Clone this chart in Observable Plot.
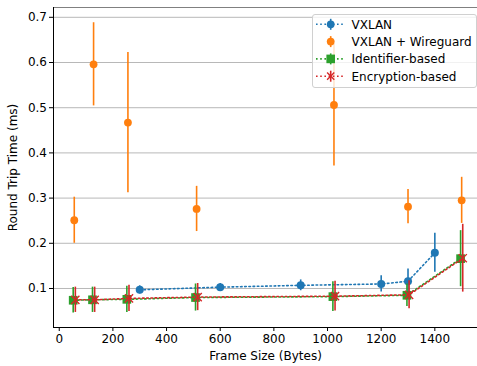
<!DOCTYPE html>
<html><head><meta charset="utf-8">
<script src="https://cdn.jsdelivr.net/npm/d3@7"></script>
<script src="https://cdn.jsdelivr.net/npm/@observablehq/plot@0.6"></script>
<style>
body{margin:0;background:#fff;}
#wrap{position:relative;width:477px;height:366px;font-family:"DejaVu Sans",sans-serif;}
#wrap svg text{font-family:"DejaVu Sans",sans-serif;}
#legend{position:absolute;left:312px;top:14px;width:163px;height:72px;border:1px solid #d0d0d0;border-radius:3px;background:rgba(255,255,255,0.8);}
#legend svg{position:absolute;left:0;top:0;}
</style></head><body><div id="wrap"></div>
<script>
// Series data
const vxlanX = [300, 600, 900, 1200, 1300, 1400];
const vxlanY = [0.097, 0.103, 0.107, 0.110, 0.116, 0.179];
const vxlanErr = [0.009, 0.008, 0.012, 0.018, 0.027, 0.043];

const wgX = [56, 128, 256, 512, 1024, 1300, 1500];
const wgY = [0.251, 0.596, 0.467, 0.276, 0.506, 0.281, 0.295];
const wgErr = [0.051, 0.092, 0.155, 0.050, 0.135, 0.038, 0.051];

const idX = [52, 124, 252, 508, 1020, 1296, 1496];
const idY = [0.074, 0.075, 0.076, 0.080, 0.082, 0.085, 0.166];
const idErr = [0.028, 0.028, 0.029, 0.030, 0.033, 0.025, 0.062];

const encX = [60, 132, 260, 516, 1028, 1304, 1504];
const encY = [0.075, 0.075, 0.078, 0.081, 0.083, 0.086, 0.167];
const encErr = [0.028, 0.028, 0.029, 0.030, 0.033, 0.031, 0.075];

const seriesNames = ["VXLAN", "VXLAN + Wireguard", "Identifier-based", "Encryption-based"];
const seriesColors = ["#1f77b4", "#ff7f0e", "#2ca02c", "#d62728"];

const xTicks = [0, 200, 400, 600, 800, 1000, 1200, 1400];
const yTicks = [0.1, 0.2, 0.3, 0.4, 0.5, 0.6, 0.7];
const xDomain = [-21.4, 1559];
const yDomain = [0.0137, 0.7217];

const rows = (xs, ys, es) => xs.map((x, i) => ({x, y: ys[i], lo: ys[i] - es[i], hi: ys[i] + es[i]}));
const vx = rows(vxlanX, vxlanY, vxlanErr);
const wg = rows(wgX, wgY, wgErr);
const id = rows(idX, idY, idErr);
const en = rows(encX, encY, encErr);

const dash = "1.6,2.6";
const chart = Plot.plot({
  width: 477, height: 366,
  marginLeft: 53, marginRight: 0, marginTop: 7, marginBottom: 39,
  style: {fontFamily: "DejaVu Sans, sans-serif", fontSize: "12px", color: "#000", background: "#fff"},
  x: {domain: xDomain},
  y: {domain: yDomain},
  marks: [
    Plot.gridY(yTicks, {stroke: "#b0b0b0", strokeOpacity: 1, strokeWidth: 0.9}),
    Plot.ruleY([yDomain[1]], {stroke: "#808080", strokeWidth: 1.2}),
    Plot.axisX({ticks: xTicks, tickSize: 4, tickPadding: 2.5, tickFormat: d3.format("d"), label: "Frame Size (Bytes)", labelAnchor: "center", labelOffset: 32, labelArrow: "none", fontSize: 12}),
    Plot.axisY({ticks: yTicks, tickSize: 4, tickPadding: 2.5, tickFormat: d3.format(".1f"), label: "Round Trip Time (ms)", labelAnchor: "center", labelOffset: 45, labelArrow: "none", fontSize: 12}),
    // VXLAN
    Plot.ruleX(vx, {x: "x", y1: "lo", y2: "hi", stroke: seriesColors[0], strokeWidth: 1.6}),
    Plot.line(vx, {x: "x", y: "y", stroke: seriesColors[0], strokeWidth: 1.6, strokeDasharray: dash}),
    Plot.dot(vx, {x: "x", y: "y", r: 4, fill: seriesColors[0], stroke: "none"}),
    // VXLAN + Wireguard
    Plot.ruleX(wg, {x: "x", y1: "lo", y2: "hi", stroke: seriesColors[1], strokeWidth: 1.6}),
    Plot.dot(wg, {x: "x", y: "y", r: 3.9, fill: seriesColors[1], stroke: "none"}),
    // Identifier-based
    Plot.ruleX(id, {x: "x", y1: "lo", y2: "hi", stroke: seriesColors[2], strokeWidth: 1.6}),
    Plot.line(id, {x: "x", y: "y", stroke: seriesColors[2], strokeWidth: 1.6, strokeDasharray: dash}),
    Plot.dot(id, {x: "x", y: "y", r: 4.9, symbol: "square", fill: seriesColors[2], stroke: "none"}),
    // Encryption-based
    Plot.ruleX(en, {x: "x", y1: "lo", y2: "hi", stroke: seriesColors[3], strokeWidth: 1.6}),
    Plot.line(en, {x: "x", y: "y", stroke: seriesColors[3], strokeWidth: 1.6, strokeDasharray: dash}),
    Plot.dot(en, {x: "x", y: "y", r: 3.8, symbol: "times", stroke: seriesColors[3], strokeWidth: 1.4}),
    // spines
    Plot.ruleX([xDomain[0]], {stroke: "#000", strokeWidth: 1}),
    Plot.ruleY([yDomain[0]], {stroke: "#000", strokeWidth: 1})
  ]
});
const wrap = document.getElementById("wrap");
wrap.appendChild(chart);

// Legend (inside the axes, top right)
const leg = document.createElement("div");
leg.id = "legend";
const ns = "http://www.w3.org/2000/svg";
const svg = document.createElementNS(ns, "svg");
svg.setAttribute("width", 163); svg.setAttribute("height", 72);
const markerShapes = ["circle", "circle", "square", "times"];
const hasLine = [true, false, true, true];
seriesNames.forEach((name, i) => {
  const cy = 9.3 + i * 17.3, cx = 17.7, c = seriesColors[i];
  let s = "";
  if (hasLine[i]) s += `<line x1="3" x2="31" y1="${cy}" y2="${cy}" stroke="${c}" stroke-width="1.6" stroke-dasharray="${dash}"/>`;
  s += `<line x1="${cx}" x2="${cx}" y1="${cy - 5.5}" y2="${cy + 5.5}" stroke="${c}" stroke-width="1.6"/>`;
  if (markerShapes[i] === "circle") s += `<circle cx="${cx}" cy="${cy}" r="3.9" fill="${c}"/>`;
  else if (markerShapes[i] === "square") s += `<rect x="${cx - 4.3}" y="${cy - 4.3}" width="8.6" height="8.6" fill="${c}"/>`;
  else s += `<path d="M${cx - 3.6},${cy - 3.6}L${cx + 3.6},${cy + 3.6}M${cx - 3.6},${cy + 3.6}L${cx + 3.6},${cy - 3.6}" stroke="${c}" stroke-width="1.4"/>`;
  s += `<text x="38.5" y="${cy}" dy="0.36em" font-size="12" font-family="DejaVu Sans, sans-serif" fill="#000">${name}</text>`;
  const g = document.createElementNS(ns, "g");
  g.innerHTML = s;
  svg.appendChild(g);
});
leg.appendChild(svg);
wrap.appendChild(leg);
</script></body></html>
